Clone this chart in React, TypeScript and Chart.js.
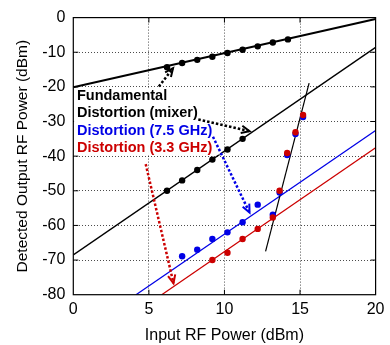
import React, { useEffect, useRef } from "react";
import { Chart, registerables } from "chart.js";
Chart.register(...registerables);

// ---- data ----
const fundX = [6.2, 7.2, 8.2, 9.2, 10.2, 11.2, 12.2, 13.2, 14.2];
const fundY = [-14.3, -13.1, -12.2, -11.3, -10.2, -9.3, -8.3, -7.2, -6.3];
const mixX = [6.2, 7.2, 8.2, 9.2, 10.2, 11.2];
const mixY = [-50, -47, -44, -41, -38.1, -35];
const blueX = [7.2, 8.2, 9.2, 10.2, 11.2, 12.2, 13.2, 13.65, 14.15, 14.7, 15.2];
const blueY = [-68.9, -67, -63.9, -62, -59.1, -54, -56.9, -50.5, -39.7, -33.6, -28.7];
const redX = [9.2, 10.2, 11.2, 12.2, 13.2, 13.65, 14.15, 14.7, 15.2];
const redY = [-70, -67.9, -63.9, -61, -57.7, -50, -39.1, -33.1, -28.1];

// fitted lines
const fundLineX = [0, 20];
const fundLineY = [-20.1, -0.4];
const mixLineX = [0, 20];
const mixLineY = [-68.5, -8.6];
const blueLineX = [4.15, 20];
const blueLineY = [-80, -32.6];
const redLineX = [5.85, 20];
const redLineY = [-80, -37.6];
const steepLineX = [12.72, 15.6];
const steepLineY = [-67.5, -18.9];

// labels
const labelTexts = ["Fundamental", "Distortion (mixer)", "Distortion (7.5 GHz)", "Distortion (3.3 GHz)"];
const labelColors = ["#000000", "#000000", "#0000e6", "#cc0000"];
const labelYs = [-22.7, -27.5, -32.75, -37.6];
const labelX = 0.24;

// arrows: [x0, y0, x1, y1]
const arrowFund = [5.66, -19.9, 6.6, -14.6];
const arrowMix = [8.27, -29.4, 11.66, -32.8];
const arrowBlue = [9.24, -34.4, 11.66, -56.3];
const arrowRed = [4.79, -42.3, 6.63, -76.7];

const xTitle = "Input RF Power (dBm)";
const yTitle = "Detected Output RF Power (dBm)";

const FONT = "'Liberation Sans', Arial, sans-serif";
const BLUE = "#0000e6";
const RED = "#cc0000";

const pts = (xs: number[], ys: number[]) => xs.map((x, i) => ({ x, y: ys[i] }));

const overlay = {
  id: "overlay",
  afterDatasetsDraw(chart: any) {
    const { ctx, chartArea: a, scales } = chart;
    const X = (v: number) => scales.x.getPixelForValue(v);
    const Y = (v: number) => scales.y.getPixelForValue(v);
    ctx.save();
    // frame
    ctx.strokeStyle = "#000";
    ctx.lineWidth = 1.2;
    ctx.setLineDash([]);
    ctx.strokeRect(a.left, a.top, a.right - a.left, a.bottom - a.top);
    // inward ticks
    ctx.lineWidth = 1;
    [5, 10, 15].forEach((v) => {
      const px = X(v);
      ctx.beginPath();
      ctx.moveTo(px, a.bottom); ctx.lineTo(px, a.bottom - 5);
      ctx.moveTo(px, a.top); ctx.lineTo(px, a.top + 5);
      ctx.stroke();
    });
    [-10, -20, -30, -40, -50, -60, -70].forEach((v) => {
      const py = Y(v);
      ctx.beginPath();
      ctx.moveTo(a.left, py); ctx.lineTo(a.left + 5, py);
      ctx.moveTo(a.right, py); ctx.lineTo(a.right - 5, py);
      ctx.stroke();
    });
    // label box
    const bx0 = X(0.05), bx1 = X(9.7), by0 = Y(-20.4), by1 = Y(-39.5);
    ctx.fillStyle = "#fff";
    ctx.fillRect(bx0, by0, bx1 - bx0, by1 - by0);
    ctx.font = `bold 14.5px ${FONT}`;
    ctx.textAlign = "left";
    ctx.textBaseline = "middle";
    labelTexts.forEach((t, i) => {
      ctx.fillStyle = labelColors[i];
      ctx.fillText(t, X(labelX), Y(labelYs[i]));
    });
    // arrows
    const arrow = (ar: number[], color: string) => {
      const x0 = X(ar[0]), y0 = Y(ar[1]), x1 = X(ar[2]), y1 = Y(ar[3]);
      ctx.strokeStyle = color;
      ctx.lineWidth = 2.5;
      ctx.setLineDash([2.5, 2]);
      ctx.beginPath();
      ctx.moveTo(x0, y0);
      ctx.lineTo(x1, y1);
      ctx.stroke();
      ctx.setLineDash([]);
      const ang = Math.atan2(y1 - y0, x1 - x0);
      const L = 9, w = 0.42;
      ctx.lineWidth = 2;
      ctx.beginPath();
      ctx.moveTo(x1 - L * Math.cos(ang - w), y1 - L * Math.sin(ang - w));
      ctx.lineTo(x1, y1);
      ctx.lineTo(x1 - L * Math.cos(ang + w), y1 - L * Math.sin(ang + w));
      ctx.stroke();
    };
    arrow(arrowFund, "#000");
    arrow(arrowMix, "#000");
    arrow(arrowBlue, BLUE);
    arrow(arrowRed, RED);
    ctx.restore();
  },
};

export default function App() {
  const ref = useRef<HTMLCanvasElement | null>(null);
  useEffect(() => {
    if (!ref.current) return;
    const pointDs = (xs: number[], ys: number[], color: string) => ({
      data: pts(xs, ys),
      showLine: false,
      pointRadius: 3.2,
      pointBackgroundColor: color,
      pointBorderColor: color,
      pointBorderWidth: 0,
    });
    const lineDs = (xs: number[], ys: number[], color: string, w: number) => ({
      data: pts(xs, ys),
      showLine: true,
      pointRadius: 0,
      borderColor: color,
      borderWidth: w,
    });
    const chart = new Chart(ref.current, {
      type: "scatter",
      data: {
        datasets: [
          pointDs(redX, redY, RED),
          pointDs(blueX, blueY, BLUE),
          pointDs(mixX, mixY, "#000"),
          pointDs(fundX, fundY, "#000"),
          lineDs(steepLineX, steepLineY, "#000", 1.2),
          lineDs(redLineX, redLineY, RED, 1.3),
          lineDs(blueLineX, blueLineY, BLUE, 1.3),
          lineDs(mixLineX, mixLineY, "#000", 1.3),
          lineDs(fundLineX, fundLineY, "#000", 2),
        ] as any,
      },
      options: {
        animation: false,
        responsive: false,
        events: [],
        layout: { padding: { top: 9.1, right: 10, left: 0, bottom: 0 } },
        plugins: { legend: { display: false }, tooltip: { enabled: false } },
        scales: {
          x: {
            type: "linear",
            min: 0,
            max: 20,
            afterFit: (s: any) => { s.height = 50.3; },
            ticks: { stepSize: 5, color: "#000", font: { family: FONT, size: 16 }, padding: 5.5, maxRotation: 0 },
            grid: {
              drawTicks: false,
              color: (c: any) => (c.tick.value === 0 || c.tick.value === 20 ? "rgba(0,0,0,0)" : "rgba(0,0,0,0.7)"),
              lineWidth: 1,
            },
            border: { display: false, dash: [1, 2] },
            title: { display: true, text: xTitle, color: "#000", font: { family: FONT, size: 16 }, padding: { top: 0, bottom: 0 } },
          },
          y: {
            type: "linear",
            min: -80,
            max: 0,
            afterFit: (s: any) => { s.width = 73.3; },
            ticks: { stepSize: 10, color: "#000", font: { family: FONT, size: 16 }, padding: 8 },
            grid: {
              drawTicks: false,
              color: (c: any) => (c.tick.value === 0 || c.tick.value === -80 ? "rgba(0,0,0,0)" : "rgba(0,0,0,0.7)"),
              lineWidth: 1,
            },
            border: { display: false, dash: [1, 2] },
            title: { display: true, text: yTitle, color: "#000", font: { family: FONT, size: 15.5 }, padding: { top: 13.5, bottom: 0 } },
          },
        },
      },
      plugins: [overlay],
    });
    return () => chart.destroy();
  }, []);
  return (
    <div style={{ position: "absolute", left: 0, top: 0, width: 390, height: 345, background: "#fff" }}>
      <canvas ref={ref} width={390} height={345} />
    </div>
  );
}
